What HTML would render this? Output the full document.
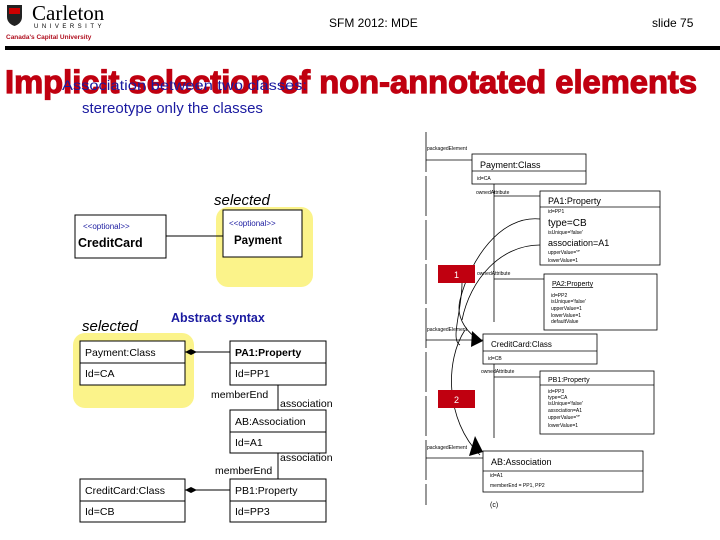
<!DOCTYPE html>
<html><head><meta charset="utf-8"><style>body{margin:0;background:#fff}svg{display:block}</style></head>
<body>
<svg width="720" height="540" viewBox="0 0 720 540" xmlns="http://www.w3.org/2000/svg" font-family="Liberation Sans, sans-serif">
<!-- logo -->
<path d="M7 5h15v12c0 5-4 8-7.5 9C11 25 7 22 7 17z" fill="#222"/>
<path d="M9 8h11v6H9z" fill="#c00"/>
<text x="32" y="20" font-family="Liberation Serif, serif" font-size="21">Carleton</text>
<text x="34" y="28" font-size="6" letter-spacing="3.5">UNIVERSITY</text>
<text x="6" y="39" font-size="6.5" font-weight="bold" fill="#b01020">Canada's Capital University</text>
<text x="329" y="27" font-size="12">SFM 2012: MDE</text>
<text x="652" y="27" font-size="12">slide 75</text>
<rect x="5" y="46" width="715" height="4" fill="#000"/>
<!-- title -->
<text x="5" y="93" font-size="32" font-weight="bold" fill="#c00010" stroke="#c00010" stroke-width="1.2" textLength="692" lengthAdjust="spacingAndGlyphs">Implicit selection of non-annotated elements</text>
<text x="62" y="90" font-size="14" fill="#1a1aa0" textLength="245" lengthAdjust="spacingAndGlyphs">Association between two classes:</text>
<text x="82" y="113" font-size="15" fill="#1a1aa0">stereotype only the classes</text>
<!-- left top -->
<rect x="216" y="207" width="97" height="80" rx="12" fill="#fbf38a"/>
<text x="214" y="205" font-size="15" font-style="italic">selected</text>
<rect x="75" y="215" width="91" height="43" fill="#fff" stroke="#000"/>
<text x="83" y="229" font-size="8" fill="#1a1aa0">&lt;&lt;optional&gt;&gt;</text>
<text x="78" y="247" font-size="12.5" font-weight="bold">CreditCard</text>
<line x1="166" y1="236" x2="223" y2="236" stroke="#000"/>
<rect x="223" y="210" width="79" height="47" fill="#fff" stroke="#000"/>
<text x="229" y="226" font-size="8" fill="#1a1aa0">&lt;&lt;optional&gt;&gt;</text>
<text x="234" y="244" font-size="11.5" font-weight="bold">Payment</text>
<text x="82" y="331" font-size="15" font-style="italic">selected</text>
<text x="171" y="322" font-size="12.5" font-weight="bold" fill="#1a1aa0">Abstract syntax</text>
<!-- left bottom -->
<rect x="73" y="333" width="121" height="75" rx="12" fill="#fbf38a"/>
<g stroke="#000" fill="#fff">
<rect x="80" y="341" width="105" height="44"/><line x1="80" y1="363" x2="185" y2="363"/>
<rect x="230" y="341" width="96" height="44"/><line x1="230" y1="363" x2="326" y2="363"/>
<rect x="230" y="410" width="96" height="43"/><line x1="230" y1="432" x2="326" y2="432"/>
<rect x="80" y="479" width="105" height="43"/><line x1="80" y1="501" x2="185" y2="501"/>
<rect x="230" y="479" width="96" height="43"/><line x1="230" y1="501" x2="326" y2="501"/>
<line x1="185" y1="352" x2="230" y2="352"/><line x1="185" y1="490" x2="230" y2="490"/>
<line x1="278" y1="385" x2="278" y2="410"/><line x1="278" y1="453" x2="278" y2="479"/>
</g>
<path d="M185 352l6-3 6 3-6 3z M185 490l6-3 6 3-6 3z" fill="#000"/>
<g font-size="10.5">
<text x="85" y="356">Payment:Class</text><text x="85" y="377">Id=CA</text>
<text x="235" y="356" font-weight="bold">PA1:Property</text><text x="235" y="377">Id=PP1</text>
<text x="211" y="398">memberEnd</text><text x="280" y="407">association</text>
<text x="235" y="425">AB:Association</text><text x="235" y="446">Id=A1</text>
<text x="280" y="461">association</text><text x="215" y="474">memberEnd</text>
<text x="85" y="494">CreditCard:Class</text><text x="85" y="515">Id=CB</text>
<text x="235" y="494">PB1:Property</text><text x="235" y="515">Id=PP3</text>
</g>
<!-- right diagram -->
<g stroke="#000" fill="none" stroke-width="0.8">
<line x1="426" y1="132" x2="426" y2="505" stroke-dasharray="40 4"/>
<line x1="426" y1="160" x2="472" y2="160"/>
<line x1="494" y1="184" x2="494" y2="322"/>
<line x1="494" y1="196" x2="540" y2="196"/>
<line x1="494" y1="279" x2="544" y2="279"/>
<line x1="426" y1="340" x2="483" y2="340"/>
<line x1="494" y1="364" x2="494" y2="438"/>
<line x1="494" y1="377" x2="540" y2="377"/>
<line x1="426" y1="458" x2="483" y2="458"/>
<rect x="472" y="154" width="114" height="30" fill="#fff"/><line x1="472" y1="171" x2="586" y2="171"/>
<rect x="540" y="191" width="120" height="74" fill="#fff"/><line x1="540" y1="207" x2="660" y2="207"/>
<rect x="544" y="274" width="113" height="56" fill="#fff"/>
<rect x="483" y="334" width="114" height="30" fill="#fff"/><line x1="483" y1="351" x2="597" y2="351"/>
<rect x="540" y="371" width="114" height="63" fill="#fff"/><line x1="540" y1="385" x2="654" y2="385"/>
<rect x="483" y="451" width="160" height="41" fill="#fff"/><line x1="483" y1="471" x2="643" y2="471"/>
<path d="M540 219C500 215 470 260 460 300C455 320 470 335 480 340"/>
<path d="M540 245C500 245 470 280 462 320"/>
<path d="M462 283C462 310 450 340 460 345"/>
<path d="M465 330C445 360 445 420 480 455"/>
</g>
<path d="M472 331l11 10-12 6z M475 436l8 16-14 4z" fill="#000"/>
<rect x="438" y="265" width="37" height="18" fill="#c00010"/>
<text x="454" y="278" font-size="9" fill="#fff">1</text>
<rect x="438" y="390" width="37" height="18" fill="#c00010"/>
<text x="454" y="403" font-size="9" fill="#fff">2</text>
<g font-size="5">
<text x="427" y="150">packagedElement</text>
<text x="477" y="180">id=CA</text>
<text x="476" y="194">ownedAttribute</text>
<text x="548" y="213">id=PP1</text>
<text x="548" y="234">isUnique='false'</text>
<text x="548" y="254">upperValue='*'</text>
<text x="548" y="262">lowerValue=1</text>
<text x="477" y="275">ownedAttribute</text>
<text x="551" y="297">id=PP2</text>
<text x="551" y="303">isUnique='false'</text>
<text x="551" y="310">upperValue=1</text>
<text x="551" y="317">lowerValue=1</text>
<text x="551" y="323">defaultValue</text>
<text x="427" y="331">packagedElement</text>
<text x="488" y="360">id=CB</text>
<text x="481" y="373">ownedAttribute</text>
<text x="548" y="393">id=PP3</text>
<text x="548" y="399">type=CA</text>
<text x="548" y="405">isUnique='false'</text>
<text x="548" y="412">association=A1</text>
<text x="548" y="419">upperValue='*'</text>
<text x="548" y="427">lowerValue=1</text>
<text x="427" y="449">packagedElement</text>
<text x="490" y="477">id=A1</text>
<text x="490" y="487">memberEnd = PP1, PP2</text>
</g>
<text x="480" y="168" font-size="9">Payment:Class</text>
<text x="548" y="204" font-size="9">PA1:Property</text>
<text x="548" y="226" font-size="10">type=CB</text>
<text x="548" y="246" font-size="9">association=A1</text>
<text x="552" y="286" font-size="7" text-decoration="underline">PA2:Property</text>
<text x="491" y="347" font-size="8">CreditCard:Class</text>
<text x="548" y="382" font-size="7">PB1:Property</text>
<text x="491" y="465" font-size="9">AB:Association</text>
<text x="490" y="507" font-size="7">(c)</text>
</svg>
</body></html>
